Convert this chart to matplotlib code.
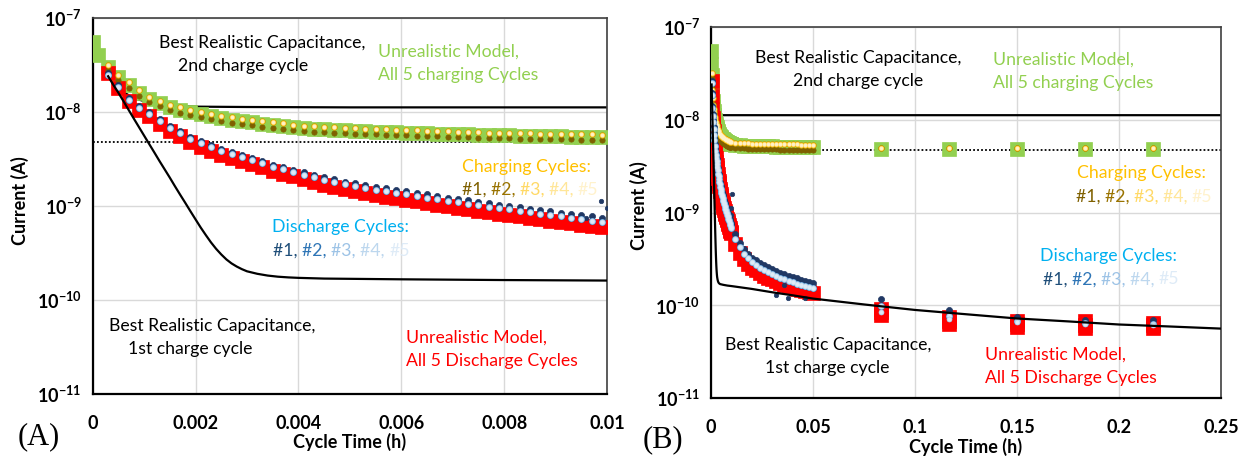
import numpy as np
import matplotlib
matplotlib.use('Agg')
import matplotlib.pyplot as plt
from matplotlib.ticker import NullLocator

# ---------------- data (currents in nA, time in h) ----------------
t_early = [0.0, 0.0001]
t_fast = [0.0003, 0.0005, 0.0007, 0.0009, 0.0011, 0.0013, 0.0015, 0.0017, 0.0019, 0.0021,
          0.0023, 0.0025, 0.0027, 0.0029, 0.0031, 0.0033, 0.0035, 0.0037, 0.0039, 0.0041,
          0.0043, 0.0045, 0.0047, 0.0049, 0.0051, 0.0053, 0.0055, 0.0057, 0.0059, 0.0061,
          0.0063, 0.0065, 0.0067, 0.0069, 0.0071, 0.0073, 0.0075, 0.0077, 0.0079, 0.0081,
          0.0083, 0.0085, 0.0087, 0.0089, 0.0091, 0.0093, 0.0095, 0.0097, 0.0099]
t_slow = [0.012, 0.014, 0.016, 0.018, 0.020, 0.022, 0.024, 0.026, 0.028, 0.030,
          0.032, 0.034, 0.036, 0.038, 0.040, 0.042, 0.044, 0.046, 0.048, 0.050]
t_sparse = [0.0833, 0.1167, 0.15, 0.1833, 0.2167]

# Unrealistic model, charging (green)
charge_model_early = [55.0, 40.0]
charge_model_fast = [30.0, 23.5, 19.5, 16.0, 13.8, 12.4, 11.3, 10.6, 10.0, 9.5,
                     9.0, 8.6, 8.3, 8.0, 7.75, 7.5, 7.3, 7.1, 6.9, 6.75,
                     6.65, 6.55, 6.45, 6.38, 6.3, 6.25, 6.2, 6.15, 6.1, 6.05,
                     6.0, 5.95, 5.9, 5.86, 5.82, 5.78, 5.74, 5.7, 5.67, 5.64,
                     5.61, 5.58, 5.55, 5.52, 5.5, 5.48, 5.46, 5.44, 5.42]
charge_model_slow = [5.36, 5.31, 5.27, 5.24, 5.22, 5.2, 5.18, 5.17, 5.16, 5.15,
                     5.14, 5.13, 5.12, 5.11, 5.1, 5.1, 5.09, 5.09, 5.08, 5.08]
charge_model_sparse = [4.82, 4.82, 4.82, 4.82, 4.82]

# Charging cycle #1 (dark brown)
charge_c1_fast = [28.0, 21.8, 18.1, 14.9, 12.8, 11.5, 10.5, 9.85, 9.3, 8.85,
                  8.4, 8.0, 7.7, 7.45, 7.2, 6.98, 6.8, 6.6, 6.42, 6.28,
                  6.18, 6.09, 6.0, 5.93, 5.86, 5.81, 5.77, 5.72, 5.67, 5.63,
                  5.58, 5.53, 5.49, 5.45, 5.41, 5.38, 5.34, 5.3, 5.27, 5.25,
                  5.22, 5.19, 5.16, 5.13, 5.12, 5.1, 5.08, 5.06, 5.04]
charge_c1_slow = [4.98, 4.94, 4.9, 4.87, 4.86, 4.84, 4.82, 4.81, 4.8, 4.79,
                  4.78, 4.77, 4.76, 4.75, 4.74, 4.74, 4.73, 4.73, 4.72, 4.72]
charge_c1_sparse = [4.95, 4.95, 4.95, 4.95, 4.95]

# Charging cycles #2-#5 (gold shades)
charge_c25_fast = [32.0, 25.0, 20.7, 17.0, 14.6, 13.1, 12.0, 11.2, 10.6, 10.1,
                   9.55, 9.1, 8.8, 8.5, 8.2, 7.95, 7.75, 7.55, 7.3, 7.15,
                   7.05, 6.95, 6.85, 6.76, 6.68, 6.63, 6.57, 6.52, 6.47, 6.41,
                   6.36, 6.31, 6.25, 6.21, 6.17, 6.13, 6.08, 6.04, 6.01, 5.98,
                   5.95, 5.91, 5.88, 5.85, 5.83, 5.81, 5.79, 5.77, 5.75]
charge_c25_slow = [5.68, 5.63, 5.59, 5.55, 5.53, 5.51, 5.49, 5.48, 5.47, 5.46,
                   5.45, 5.44, 5.43, 5.42, 5.41, 5.41, 5.4, 5.4, 5.39, 5.39]
charge_c25_sparse = [5.0, 5.0, 5.0, 5.0, 5.0]

# Unrealistic model, discharging (red)
disc_model_fast = [26.0, 18.0, 13.0, 10.5, 9.0, 7.5, 6.35, 5.55, 4.8, 4.28,
                   3.85, 3.52, 3.23, 3.0, 2.8, 2.57, 2.35, 2.2, 2.06, 1.92,
                   1.8, 1.69, 1.59, 1.5, 1.43, 1.37, 1.31, 1.26, 1.21, 1.16,
                   1.12, 1.07, 1.03, 0.995, 0.96, 0.925, 0.89, 0.86, 0.83, 0.8,
                   0.775, 0.75, 0.725, 0.7, 0.675, 0.655, 0.635, 0.612, 0.595]
disc_model_slow = [0.46, 0.37, 0.315, 0.28, 0.255, 0.237, 0.222, 0.209, 0.198, 0.19,
                   0.181, 0.174, 0.167, 0.161, 0.156, 0.151, 0.146, 0.142, 0.139, 0.136]
disc_model_sparse_hi = [0.091, 0.074, 0.067, 0.067, 0.065]
disc_model_sparse_mid = [0.085, 0.068, 0.063, 0.062, 0.061]
disc_model_sparse_lo = [0.079, 0.063, 0.059, 0.057, 0.057]

# Discharge cycle #1 (navy)
disc_c1_fast = [26.0, 19.4, 14.2, 11.6, 10.0, 8.4, 7.15, 6.3, 5.48, 4.9,
                4.43, 4.06, 3.75, 3.49, 3.28, 3.02, 2.76, 2.6, 2.44, 2.29,
                2.15, 2.03, 1.92, 1.82, 1.74, 1.66, 1.6, 1.54, 1.48, 1.43,
                1.38, 1.33, 1.28, 1.23, 1.19, 1.15, 1.11, 1.07, 1.03, 1.0,
                0.97, 0.94, 0.91, 0.88, 0.85, 0.825, 0.8, 0.775, 0.75]
disc_c1_slow = [0.58, 0.47, 0.405, 0.36, 0.327, 0.305, 0.285, 0.269, 0.256, 0.245,
                0.234, 0.225, 0.216, 0.208, 0.201, 0.195, 0.188, 0.183, 0.179, 0.175]
disc_c1_sparse = [0.116, 0.089, 0.074, 0.070, 0.069]
t_disc_outliers = [0.0096, 0.00988, 0.0100, 0.0101, 0.032, 0.036, 0.0378, 0.046]
disc_outliers = [0.75, 1.13, 0.95, 1.6, 0.129, 0.165, 0.12, 0.12]

# Discharge cycles #2-#5 (blue shades)
disc_c25_fast = [25.0, 18.5, 13.5, 11.0, 9.5, 8.0, 6.8, 6.0, 5.2, 4.65,
                 4.2, 3.85, 3.55, 3.3, 3.1, 2.85, 2.6, 2.45, 2.3, 2.15,
                 2.02, 1.9, 1.8, 1.7, 1.62, 1.55, 1.49, 1.43, 1.38, 1.33,
                 1.28, 1.23, 1.18, 1.14, 1.1, 1.06, 1.02, 0.985, 0.95, 0.92,
                 0.89, 0.86, 0.83, 0.80, 0.775, 0.75, 0.725, 0.70, 0.68]
disc_c25_slow = [0.52, 0.42, 0.36, 0.32, 0.29, 0.27, 0.252, 0.238, 0.226, 0.216,
                 0.206, 0.198, 0.19, 0.183, 0.177, 0.171, 0.165, 0.161, 0.157, 0.153]
disc_c25_sparse = [0.098, 0.076, 0.068, 0.065, 0.063]
disc_c25_sparse_b = [0.085, 0.071, 0.066, 0.063, 0.061]

# Best realistic capacitance, 1st charge cycle
t_line1 = [0.0003, 0.0004, 0.0005, 0.0006, 0.0007, 0.0008, 0.0009, 0.0010, 0.0011, 0.0012,
           0.0013, 0.0014, 0.0015, 0.0016, 0.0017, 0.0018, 0.0019, 0.0020, 0.0021, 0.0022,
           0.0023, 0.0024, 0.0025, 0.0026, 0.0027, 0.0028, 0.0029, 0.0030, 0.0032, 0.0034,
           0.0036, 0.0038, 0.004, 0.0045, 0.005, 0.006, 0.008, 0.010, 0.02, 0.03,
           0.04, 0.05, 0.075, 0.1, 0.125, 0.15, 0.175, 0.2, 0.225, 0.25]
line1 = [24.0, 19.5, 16.0, 13.0, 10.5, 8.5, 6.9, 5.6, 4.55, 3.7,
         3.0, 2.45, 2.0, 1.62, 1.32, 1.08, 0.88, 0.72, 0.59, 0.49,
         0.41, 0.35, 0.305, 0.27, 0.245, 0.227, 0.213, 0.202, 0.19, 0.182,
         0.177, 0.174, 0.172, 0.169, 0.168, 0.166, 0.163, 0.161, 0.15, 0.138,
         0.128, 0.118, 0.102, 0.089, 0.080, 0.072, 0.067, 0.062, 0.059, 0.056]

# Best realistic capacitance, 2nd charge cycle
t_line2 = [0.0003, 0.0005, 0.0008, 0.0012, 0.0016, 0.002, 0.003, 0.005, 0.01, 0.05, 0.25]
line2 = [24.0, 17.5, 14.0, 12.2, 11.6, 11.4, 11.3, 11.2, 11.2, 11.2, 11.2]

dotted_level = 4.75

x_ticks_A = [0, 0.002, 0.004, 0.006, 0.008, 0.01]
x_labels_A = ['0', '0.002', '0.004', '0.006', '0.008', '0.01']
x_ticks_B = [0, 0.05, 0.1, 0.15, 0.2, 0.25]
x_labels_B = ['0', '0.05', '0.1', '0.15', '0.2', '0.25']
y_ticks = [1e-11, 1e-10, 1e-9, 1e-8, 1e-7]
y_labels = [r'$\mathbf{10^{-11}}$', r'$\mathbf{10^{-10}}$', r'$\mathbf{10^{-9}}$',
            r'$\mathbf{10^{-8}}$', r'$\mathbf{10^{-7}}$']

# ---------------- style ----------------
plt.rcParams['font.family'] = ['Lato', 'DejaVu Sans']
plt.rcParams['mathtext.fontset'] = 'custom'
plt.rcParams['mathtext.rm'] = 'Lato'
plt.rcParams['mathtext.bf'] = 'Lato:bold'

GREEN = '#92D050'
RED = '#FF0000'
CH_COLORS = ['#7F6000', '#BF9000', '#FFC000', '#FFD966', '#FFF2CC']
DC_COLORS = ['#203864', '#2E75B6', '#9DC3E6', '#BDD7EE', '#DEEBF7']
TXT = 12.7
LAB = 13

W, H = 1244, 459
fig = plt.figure(figsize=(W / 100, H / 100), dpi=100)
axA = fig.add_axes([92.7 / W, 1 - 394 / H, (607 - 92.7) / W, (394 - 18) / H])
axB = fig.add_axes([711 / W, 1 - 398 / H, (1221 - 711) / W, (398 - 27) / H])

nA = 1e-9


def arr(v):
    return np.array(v, dtype=float) * nA


def pts(ax, t, v, color, ms, marker='o', z=3):
    ax.plot(t, arr(v), ls='none', marker=marker, ms=ms, color=color, mec=color,
            mew=0.5, zorder=z)


def draw(ax):
    t_dense = t_fast + t_slow
    ax.plot([0, 0.25], [dotted_level * nA] * 2, ls=(0, (1, 1.2)), color='black', lw=1.3, zorder=1)
    ax.plot(t_line2, arr(line2), color='black', lw=1.6, zorder=2)
    # charging
    sq = 10
    pts(ax, t_early + t_dense + t_sparse,
        charge_model_early + charge_model_fast + charge_model_slow + charge_model_sparse,
        GREEN, sq, 's', 3)
    pts(ax, t_dense + t_sparse, charge_c1_fast + charge_c1_slow + charge_c1_sparse,
        CH_COLORS[0], 3.8, 'o', 4)
    for c, s in zip(CH_COLORS[1:], [4.0, 3.5, 2.9, 2.0]):
        pts(ax, t_dense + t_sparse, charge_c25_fast + charge_c25_slow + charge_c25_sparse,
            c, s, 'o', 4)
    # discharging
    pts(ax, t_dense + t_sparse, disc_model_fast + disc_model_slow + disc_model_sparse_hi, RED, sq, 's', 3)
    pts(ax, t_sparse, disc_model_sparse_mid, RED, sq, 's', 3)
    pts(ax, t_sparse, disc_model_sparse_lo, RED, sq, 's', 3)
    pts(ax, t_dense + t_sparse, disc_c1_fast + disc_c1_slow + disc_c1_sparse, DC_COLORS[0], 4.4, 'o', 4)
    pts(ax, t_disc_outliers, disc_outliers, DC_COLORS[0], 3.2, 'o', 4)
    for c, s in zip(DC_COLORS[1:], [4.6, 4.0, 3.3, 2.5]):
        pts(ax, t_dense + t_sparse, disc_c25_fast + disc_c25_slow + disc_c25_sparse, c, s, 'o', 4)
    for c, s in zip(DC_COLORS[2:], [3.6, 3.0, 2.2]):
        pts(ax, t_sparse, disc_c25_sparse_b, c, s, 'o', 4)
    ax.plot(t_line1, arr(line1), color='black', lw=1.6, zorder=5)

    ax.set_yscale('log')
    ax.set_ylim(1e-11, 1e-7)
    ax.set_yticks(y_ticks, y_labels)
    ax.yaxis.set_minor_locator(NullLocator())
    ax.grid(True, color='#D9D9D9', lw=1.0, zorder=0)
    ax.set_axisbelow(True)
    ax.tick_params(length=0, labelsize=13)
    ax.tick_params(axis='y', pad=8)
    ax.tick_params(axis='x', pad=15)
    for s in ['left', 'bottom']:
        ax.spines[s].set_color('black')
        ax.spines[s].set_linewidth(1.6)
    for s in ['top', 'right']:
        ax.spines[s].set_color('#404040')
        ax.spines[s].set_linewidth(1.2)


draw(axA)
axA.set_xlim(0, 0.01)
axA.set_xticks(x_ticks_A, x_labels_A, fontweight='bold')
draw(axB)
axB.set_xlim(0, 0.25)
axB.set_xticks(x_ticks_B, x_labels_B, fontweight='bold')


def ftext(x, y, s, color='black', size=TXT, **kw):
    return fig.text(x / W, 1 - y / H, s, color=color, fontsize=size, ha='left', va='center', **kw)


def rainbow(ax, x, y, pieces, size=TXT):
    t = ftext(x, y, pieces[0][0], pieces[0][1], size)
    for s, c in pieces[1:]:
        t = ax.annotate(s, xy=(1, 0), xycoords=t, va='bottom', ha='left', color=c,
                        fontsize=size, annotation_clip=False)


ch_pieces = [('#1, ', '#7F6000'), ('#2, ', '#997300'), ('#3, ', '#FFD966'),
             ('#4, ', '#FFE699'), ('#5', '#FFF2CC')]
dc_pieces = [('#1, ', '#1F4E79'), ('#2, ', '#2E75B6'), ('#3, ', '#9DC3E6'),
             ('#4, ', '#BDD7EE'), ('#5', '#DEEBF7')]

# Panel A texts
ftext(159, 42.7, 'Best Realistic Capacitance,')
ftext(178, 65.7, '2nd charge cycle')
ftext(377.7, 51.7, 'Unrealistic Model,', GREEN)
ftext(377.7, 75, 'All 5 charging Cycles', GREEN)
ftext(462.3, 166.7, 'Charging Cycles:', '#FFC000')
rainbow(axA, 461.7, 190, ch_pieces)
ftext(271.7, 226.7, 'Discharge Cycles:', '#00B0F0')
rainbow(axA, 273.3, 251, dc_pieces)
ftext(109.3, 325.7, 'Best Realistic Capacitance,')
ftext(128.3, 349, '1st charge cycle')
ftext(405.7, 337.3, 'Unrealistic Model,', RED)
ftext(405.7, 361, 'All 5 Discharge Cycles', RED)

# Panel B texts
ftext(755, 58.3, 'Best Realistic Capacitance,')
ftext(792.7, 81, '2nd charge cycle')
ftext(993.3, 60, 'Unrealistic Model,', GREEN)
ftext(993.3, 82.7, 'All 5 charging Cycles', GREEN)
ftext(1076.7, 173.3, 'Charging Cycles:', '#FFC000')
rainbow(axB, 1075.7, 196.7, ch_pieces)
ftext(1040, 256, 'Discharge Cycles:', '#00B0F0')
rainbow(axB, 1042.7, 279.3, dc_pieces)
ftext(725, 345, 'Best Realistic Capacitance,')
ftext(765, 368.3, '1st charge cycle')
ftext(985, 355, 'Unrealistic Model,', RED)
ftext(985, 377.7, 'All 5 Discharge Cycles', RED)

# axis labels
fig.text(20 / W, 1 - 201 / H, 'Current (A)', rotation=90, fontsize=LAB, fontweight='bold',
         ha='center', va='center')
fig.text(639 / W, 1 - 206 / H, 'Current (A)', rotation=90, fontsize=LAB, fontweight='bold',
         ha='center', va='center')
fig.text(349.7 / W, 1 - 441.7 / H, 'Cycle Time (h)', fontsize=LAB, fontweight='bold',
         ha='center', va='center')
fig.text(965.8 / W, 1 - 446.7 / H, 'Cycle Time (h)', fontsize=LAB, fontweight='bold',
         ha='center', va='center')

# panel tags
fig.text(18 / W, 1 - 436.7 / H, '(A)', family='Liberation Serif', fontsize=22, ha='left', va='center')
fig.text(643 / W, 1 - 440 / H, '(B)', family='Liberation Serif', fontsize=22, ha='left', va='center')

fig.savefig('out.png', dpi=100)
